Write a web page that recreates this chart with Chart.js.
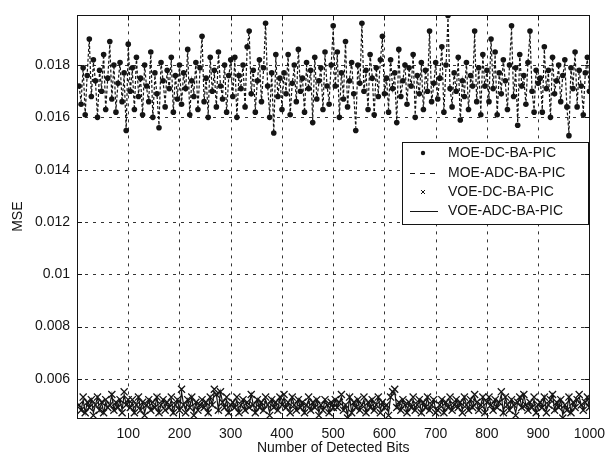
<!DOCTYPE html>
<html>
<head>
<meta charset="utf-8">
<script src="https://cdn.jsdelivr.net/npm/chart.js@4.4.1/dist/chart.umd.min.js"></script>
<style>
  html, body { margin: 0; padding: 0; background: #fff; }
  canvas { display: block; }
</style>
</head>
<body>
<canvas id="mse" width="613" height="462"></canvas>
<script>
// detected bit index (every 4th bit)
const bits = [
  4,8,12,16,20,24,28,32,36,40,44,48,52,56,60,64,68,72,76,80,84,88,92,96,100,
  104,108,112,116,120,124,128,132,136,140,144,148,152,156,160,164,168,172,176,180,184,188,192,196,200,
  204,208,212,216,220,224,228,232,236,240,244,248,252,256,260,264,268,272,276,280,284,288,292,296,300,
  304,308,312,316,320,324,328,332,336,340,344,348,352,356,360,364,368,372,376,380,384,388,392,396,400,
  404,408,412,416,420,424,428,432,436,440,444,448,452,456,460,464,468,472,476,480,484,488,492,496,500,
  504,508,512,516,520,524,528,532,536,540,544,548,552,556,560,564,568,572,576,580,584,588,592,596,600,
  604,608,612,616,620,624,628,632,636,640,644,648,652,656,660,664,668,672,676,680,684,688,692,696,700,
  704,708,712,716,720,724,728,732,736,740,744,748,752,756,760,764,768,772,776,780,784,788,792,796,800,
  804,808,812,816,820,824,828,832,836,840,844,848,852,856,860,864,868,872,876,880,884,888,892,896,900,
  904,908,912,916,920,924,928,932,936,940,944,948,952,956,960,964,968,972,976,980,984,988,992,996,1000
];

const moeDc = [
  .0172,.0165,.0179,.0161,.0176,.0190,.0168,.0182,.0174,.0160,.0178,.0170,.0184,.0163,.0175,.0189,.0167,.0180,.0162,.0173,.0181,.0166,.0177,.0155,.0188,
  .0170,.0179,.0163,.0183,.0168,.0175,.0161,.0180,.0172,.0166,.0185,.0160,.0177,.0169,.0156,.0181,.0174,.0164,.0178,.0171,.0183,.0162,.0176,.0167,.0180,
  .0165,.0177,.0171,.0186,.0161,.0174,.0168,.0181,.0163,.0179,.0191,.0166,.0175,.0160,.0183,.0170,.0178,.0164,.0185,.0172,.0167,.0180,.0162,.0176,.0182,
  .0168,.0183,.0160,.0176,.0171,.0180,.0164,.0187,.0193,.0169,.0178,.0162,.0174,.0182,.0166,.0179,.0196,.0172,.0160,.0177,.0154,.0184,.0168,.0175,.0163,
  .0177,.0169,.0184,.0161,.0173,.0180,.0166,.0186,.0170,.0175,.0162,.0181,.0171,.0178,.0158,.0183,.0167,.0174,.0179,.0163,.0185,.0172,.0165,.0180,.0195,
  .0172,.0185,.0160,.0177,.0167,.0189,.0164,.0174,.0181,.0169,.0155,.0180,.0173,.0196,.0170,.0178,.0163,.0184,.0175,.0161,.0179,.0168,.0182,.0191,.0169,
  .0175,.0162,.0182,.0171,.0177,.0158,.0186,.0168,.0174,.0180,.0165,.0179,.0172,.0184,.0160,.0176,.0169,.0181,.0163,.0178,.0170,.0193,.0166,.0173,.0181,
  .0167,.0175,.0187,.0162,.0180,.0199,.0171,.0164,.0177,.0170,.0183,.0159,.0174,.0168,.0181,.0163,.0176,.0172,.0193,.0166,.0179,.0161,.0184,.0172,.0178,
  .0166,.0190,.0171,.0185,.0161,.0177,.0169,.0182,.0174,.0163,.0180,.0195,.0168,.0179,.0157,.0184,.0172,.0176,.0165,.0181,.0193,.0170,.0162,.0178,.0173,
  .0175,.0162,.0187,.0171,.0178,.0160,.0183,.0169,.0174,.0180,.0166,.0176,.0182,.0164,.0153,.0179,.0171,.0185,.0164,.0178,.0172,.0161,.0177,.0183,.0170
];

// the ADC curve runs almost through the DC markers
const moeAdc = [
  .0172,.0166,.0179,.0161,.0177,.0190,.0168,.0181,.0174,.0160,.0178,.0171,.0184,.0163,.0175,.0188,.0167,.0180,.0163,.0173,.0181,.0166,.0176,.0155,.0188,
  .0170,.0178,.0163,.0183,.0169,.0175,.0161,.0180,.0171,.0166,.0185,.0160,.0176,.0169,.0157,.0181,.0174,.0165,.0178,.0171,.0182,.0162,.0176,.0168,.0180,
  .0165,.0177,.0170,.0186,.0161,.0174,.0169,.0181,.0163,.0178,.0191,.0166,.0175,.0161,.0183,.0170,.0177,.0164,.0185,.0172,.0168,.0180,.0162,.0175,.0182,
  .0168,.0182,.0160,.0176,.0172,.0180,.0164,.0186,.0193,.0169,.0178,.0163,.0174,.0182,.0166,.0178,.0196,.0172,.0161,.0177,.0154,.0183,.0168,.0175,.0164,
  .0177,.0170,.0184,.0161,.0173,.0179,.0166,.0186,.0171,.0175,.0162,.0180,.0171,.0178,.0159,.0183,.0167,.0173,.0179,.0163,.0184,.0172,.0166,.0180,.0194,
  .0172,.0184,.0160,.0177,.0168,.0189,.0164,.0175,.0181,.0169,.0156,.0180,.0172,.0196,.0170,.0177,.0163,.0184,.0176,.0161,.0179,.0169,.0182,.0190,.0169,
  .0175,.0163,.0182,.0171,.0176,.0158,.0185,.0168,.0174,.0181,.0165,.0179,.0171,.0184,.0161,.0176,.0169,.0180,.0163,.0178,.0171,.0193,.0166,.0172,.0181,
  .0167,.0176,.0187,.0162,.0179,.0198,.0171,.0165,.0177,.0170,.0182,.0159,.0174,.0169,.0181,.0163,.0175,.0172,.0192,.0166,.0179,.0162,.0184,.0171,.0178,
  .0167,.0190,.0171,.0184,.0161,.0177,.0170,.0182,.0173,.0163,.0180,.0194,.0168,.0178,.0158,.0184,.0172,.0175,.0165,.0181,.0192,.0170,.0163,.0178,.0173,
  .0175,.0163,.0186,.0171,.0177,.0160,.0183,.0170,.0174,.0179,.0166,.0176,.0181,.0164,.0154,.0179,.0172,.0185,.0165,.0178,.0172,.0162,.0177,.0182,.0170
];

const voeDc = [
  .0050,.0048,.0053,.0047,.0051,.0049,.0052,.0046,.0050,.0053,.0048,.0051,.0047,.0052,.0049,.0050,.0054,.0048,.0051,.0049,.0052,.0047,.0055,.0050,.0052,
  .0049,.0052,.0047,.0050,.0053,.0048,.0051,.0046,.0050,.0052,.0048,.0051,.0049,.0053,.0047,.0050,.0052,.0048,.0051,.0049,.0053,.0047,.0050,.0052,.0048,
  .0056,.0050,.0047,.0052,.0049,.0053,.0046,.0051,.0048,.0050,.0052,.0049,.0051,.0047,.0053,.0050,.0056,.0054,.0048,.0055,.0051,.0049,.0053,.0047,.0050,
  .0051,.0049,.0053,.0047,.0050,.0052,.0048,.0051,.0049,.0054,.0050,.0047,.0052,.0049,.0051,.0048,.0053,.0050,.0046,.0052,.0049,.0051,.0048,.0053,.0050,
  .0054,.0049,.0051,.0047,.0053,.0050,.0048,.0052,.0049,.0051,.0047,.0050,.0053,.0048,.0051,.0049,.0052,.0046,.0050,.0048,.0052,.0050,.0047,.0051,.0049,
  .0052,.0049,.0051,.0054,.0048,.0050,.0045,.0053,.0047,.0051,.0049,.0052,.0048,.0050,.0053,.0047,.0051,.0049,.0052,.0048,.0050,.0053,.0047,.0051,.0049,
  .0050,.0046,.0053,.0055,.0056,.0049,.0051,.0048,.0052,.0050,.0047,.0051,.0049,.0053,.0048,.0050,.0052,.0047,.0051,.0049,.0053,.0048,.0050,.0052,.0047,
  .0048,.0050,.0052,.0047,.0051,.0049,.0053,.0048,.0050,.0052,.0049,.0051,.0047,.0053,.0050,.0048,.0052,.0049,.0054,.0051,.0048,.0050,.0053,.0047,.0051,
  .0053,.0050,.0048,.0052,.0049,.0051,.0055,.0047,.0053,.0050,.0048,.0052,.0050,.0046,.0051,.0053,.0049,.0054,.0050,.0048,.0051,.0049,.0053,.0047,.0050,
  .0051,.0049,.0053,.0047,.0050,.0052,.0054,.0048,.0051,.0049,.0052,.0045,.0050,.0048,.0053,.0047,.0051,.0049,.0052,.0054,.0050,.0048,.0051,.0053,.0049
];

const voeAdc = [
  .0050,.0048,.0052,.0047,.0051,.0049,.0052,.0047,.0050,.0053,.0048,.0051,.0047,.0051,.0049,.0050,.0054,.0048,.0051,.0049,.0052,.0048,.0054,.0050,.0052,
  .0049,.0051,.0047,.0050,.0053,.0048,.0051,.0047,.0050,.0052,.0048,.0050,.0049,.0053,.0047,.0050,.0052,.0049,.0051,.0049,.0052,.0047,.0050,.0052,.0048,
  .0055,.0050,.0048,.0052,.0049,.0053,.0047,.0051,.0048,.0050,.0051,.0049,.0051,.0047,.0053,.0050,.0055,.0054,.0048,.0055,.0051,.0049,.0052,.0047,.0050,
  .0051,.0049,.0052,.0047,.0050,.0052,.0048,.0051,.0050,.0054,.0050,.0047,.0052,.0049,.0051,.0048,.0052,.0050,.0047,.0052,.0049,.0051,.0048,.0053,.0050,
  .0053,.0049,.0051,.0048,.0053,.0050,.0048,.0052,.0049,.0051,.0047,.0050,.0052,.0048,.0051,.0049,.0052,.0047,.0050,.0048,.0052,.0050,.0047,.0051,.0049,
  .0052,.0049,.0051,.0053,.0048,.0050,.0046,.0053,.0047,.0051,.0049,.0052,.0048,.0050,.0052,.0047,.0051,.0049,.0052,.0048,.0050,.0053,.0048,.0051,.0049,
  .0050,.0047,.0053,.0055,.0055,.0049,.0051,.0048,.0052,.0050,.0047,.0051,.0049,.0052,.0048,.0050,.0052,.0047,.0051,.0049,.0053,.0048,.0050,.0052,.0048,
  .0048,.0050,.0052,.0047,.0051,.0049,.0052,.0048,.0050,.0052,.0049,.0051,.0048,.0053,.0050,.0048,.0052,.0049,.0053,.0051,.0048,.0050,.0053,.0047,.0051,
  .0053,.0050,.0048,.0052,.0049,.0051,.0054,.0047,.0053,.0050,.0048,.0052,.0050,.0047,.0051,.0053,.0049,.0054,.0050,.0048,.0051,.0049,.0052,.0047,.0050,
  .0051,.0049,.0053,.0048,.0050,.0052,.0054,.0048,.0051,.0049,.0052,.0046,.0050,.0048,.0053,.0047,.0051,.0049,.0052,.0053,.0050,.0048,.0051,.0053,.0049
];

const seriesNames = ['MOE-DC-BA-PIC', 'MOE-ADC-BA-PIC', 'VOE-DC-BA-PIC', 'VOE-ADC-BA-PIC'];
const xTicks = [100, 200, 300, 400, 500, 600, 700, 800, 900, 1000];
const yTicks = [0.006, 0.008, 0.01, 0.012, 0.014, 0.016, 0.018];

const ink = '#141414';
const font = '"Liberation Sans", Arial, sans-serif';

// matlab-ish frame: dashed grid, closed box, ticks pointing inwards, legend inside the axes
const frame = {
  id: 'frame',
  beforeDatasetsDraw(chart) {
    const { ctx, chartArea: a, scales: { x, y } } = chart;
    ctx.save();
    ctx.strokeStyle = '#333';
    ctx.lineWidth = 1;
    ctx.setLineDash([3, 5]);
    ctx.beginPath();
    xTicks.forEach(v => {
      const px = Math.round(x.getPixelForValue(v)) + 0.5;
      ctx.moveTo(px, a.top); ctx.lineTo(px, a.bottom);
    });
    yTicks.forEach(v => {
      const py = Math.round(y.getPixelForValue(v)) + 0.5;
      ctx.moveTo(a.left, py); ctx.lineTo(a.right, py);
    });
    ctx.stroke();
    ctx.restore();
  },
  afterDatasetsDraw(chart) {
    const { ctx, chartArea: a, scales: { x, y } } = chart;
    ctx.save();
    ctx.strokeStyle = ink;
    ctx.lineWidth = 1;
    ctx.setLineDash([]);
    ctx.strokeRect(Math.round(a.left) + 0.5, Math.round(a.top) + 0.5,
      Math.round(a.right - a.left), Math.round(a.bottom - a.top));
    ctx.beginPath();
    xTicks.forEach(v => {
      const px = Math.round(x.getPixelForValue(v)) + 0.5;
      ctx.moveTo(px, a.bottom); ctx.lineTo(px, a.bottom - 5);
      ctx.moveTo(px, a.top); ctx.lineTo(px, a.top + 5);
    });
    yTicks.forEach(v => {
      const py = Math.round(y.getPixelForValue(v)) + 0.5;
      ctx.moveTo(a.left, py); ctx.lineTo(a.left + 5, py);
      ctx.moveTo(a.right, py); ctx.lineTo(a.right - 5, py);
    });
    ctx.stroke();

    // legend box
    const lx = 402, ly = 142, lw = 186, lh = 82;
    ctx.fillStyle = '#fff';
    ctx.fillRect(lx, ly, lw, lh);
    ctx.strokeRect(lx + 0.5, ly + 0.5, lw, lh);
    const rows = [153, 173, 192, 211];
    ctx.font = '14px ' + font;
    ctx.textBaseline = 'middle';
    ctx.textAlign = 'left';
    chart.data.datasets.forEach((ds, i) => {
      const cy = rows[i];
      ctx.fillStyle = ink;
      ctx.strokeStyle = ink;
      if (i === 0) {
        ctx.beginPath(); ctx.arc(423, cy, 2.2, 0, Math.PI * 2); ctx.fill();
      } else if (i === 1) {
        ctx.lineWidth = 1; ctx.setLineDash([5, 5]);
        ctx.beginPath(); ctx.moveTo(410, cy + 0.5); ctx.lineTo(438, cy + 0.5); ctx.stroke();
        ctx.setLineDash([]);
      } else if (i === 2) {
        ctx.lineWidth = 1;
        ctx.beginPath();
        ctx.moveTo(421, cy - 2); ctx.lineTo(425, cy + 2);
        ctx.moveTo(425, cy - 2); ctx.lineTo(421, cy + 2);
        ctx.stroke();
      } else {
        ctx.lineWidth = 1;
        ctx.beginPath(); ctx.moveTo(410, cy + 0.5); ctx.lineTo(438, cy + 0.5); ctx.stroke();
      }
      ctx.fillText(ds.label, 448, cy);
    });
    ctx.restore();
  }
};

new Chart(document.getElementById('mse').getContext('2d'), {
  type: 'line',
  data: {
    labels: bits,
    datasets: [
      {
        label: seriesNames[0], data: moeDc, showLine: false,
        pointStyle: 'circle', pointRadius: 2.8, pointBackgroundColor: ink, pointBorderColor: ink, pointBorderWidth: 0
      },
      {
        label: seriesNames[1], data: moeAdc, borderColor: ink, borderWidth: 1.2,
        borderDash: [3, 2], pointRadius: 0, tension: 0
      },
      {
        label: seriesNames[2], data: voeDc, showLine: false,
        pointStyle: 'crossRot', pointRadius: 5, pointBorderColor: ink, pointBorderWidth: 1.3
      },
      {
        label: seriesNames[3], data: voeAdc, borderColor: ink, borderWidth: 1.2,
        pointRadius: 0, tension: 0
      }
    ]
  },
  options: {
    responsive: false,
    animation: false,
    devicePixelRatio: 1,
    layout: { padding: { top: 10, right: 14, left: 0, bottom: 0 } },
    plugins: { legend: { display: false }, tooltip: { enabled: false } },
    scales: {
      x: {
        type: 'linear',
        min: 0,
        max: 1000,
        grid: { display: false, drawTicks: false },
        border: { display: false },
        afterBuildTicks: scale => { scale.ticks = xTicks.map(v => ({ value: v })); },
        afterFit: scale => { scale.height = 44; },
        ticks: {
          color: ink, font: { family: font, size: 14 }, padding: 8, maxRotation: 0, autoSkip: false,
          callback: v => String(v)
        },
        title: { display: true, text: 'Number of Detected Bits', color: ink,
          font: { family: font, size: 14 }, padding: { top: 0, bottom: 5 } }
      },
      y: {
        min: 0.0045,
        max: 0.0199,
        grid: { display: false, drawTicks: false },
        border: { display: false },
        afterBuildTicks: scale => { scale.ticks = yTicks.map(v => ({ value: v })); },
        afterFit: scale => { scale.width = 77; },
        ticks: {
          color: ink, font: { family: font, size: 14 }, padding: 7,
          callback: v => String(Number(v.toFixed(3)))
        },
        title: { display: true, text: 'MSE', color: ink,
          font: { family: font, size: 14 }, padding: { top: 10, bottom: 0 } }
      }
    }
  },
  plugins: [frame]
});
</script>
</body>
</html>
